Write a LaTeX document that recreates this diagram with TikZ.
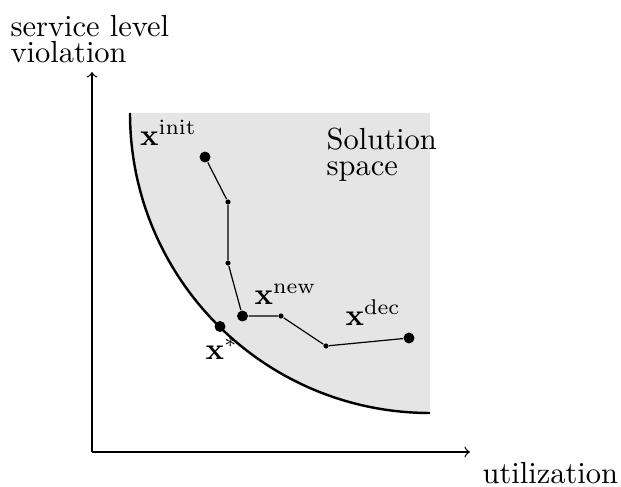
\documentclass[tikz,border=0pt]{standalone}
\begin{document}
\begin{tikzpicture}[x=0.328pt,y=-0.328pt,
  bigdot/.style={circle,fill=black,inner sep=0pt,minimum size=3.6pt},
  smalldot/.style={circle,fill=black,inner sep=0pt,minimum size=1.7pt},
  lbl/.style={inner sep=0pt,anchor=base west},
  twoline/.style={inner sep=0pt,anchor=base west,align=left,font={\fontsize{10pt}{8.7pt}\selectfont}},
  axis/.style={->,line width=0.4pt},
  path/.style={line width=0.4pt}]
\useasboundingbox (0,0) rectangle (621,487);
% solution space
\fill[gray!20] (130,113) -- (430,113) -- (430,413) .. controls (264.3,413) and (130,278.7) .. (130,113) -- cycle;
\draw[thick] (130,113) .. controls (130,278.7) and (264.3,413) .. (430,413);
% axes
\coordinate (o) at (92,452);
\coordinate (ytip) at (92,72);
\coordinate (xtip) at (470,452);
\draw[axis] (o) -- (ytip);
\draw[axis] (o) -- (xtip);
\node[twoline] (ylab) at (10,63) {service level\\violation};
\node[lbl] (xlab) at (482,484) {utilization};
\node[twoline] (sol) at (326,176) {Solution\\space};
% points
\node[bigdot] (init) at (205,157) {};
\node[smalldot] (p1) at (228,202) {};
\node[smalldot] (p2) at (228,263) {};
\node[bigdot] (new) at (242.5,316) {};
\node[smalldot] (p3) at (281,316) {};
\node[smalldot] (p4) at (326,346) {};
\node[bigdot] (dec) at (409,338) {};
\node[bigdot] (opt) at (220,326.5) {};
\draw[path] (init) -- (p1) -- (p2) -- (new) -- (p3) -- (p4) -- (dec);
% labels
\node[lbl] (linit) at (139.5,146) {$\mathbf{x}^{\mathrm{init}}$};
\node[lbl] (lnew) at (254,305) {$\mathbf{x}^{\mathrm{new}}$};
\node[lbl] (ldec) at (345,325.5) {$\mathbf{x}^{\mathrm{dec}}$};
\node[lbl] (lopt) at (205,359) {$\mathbf{x}^{*}$};
\end{tikzpicture}
\end{document}
